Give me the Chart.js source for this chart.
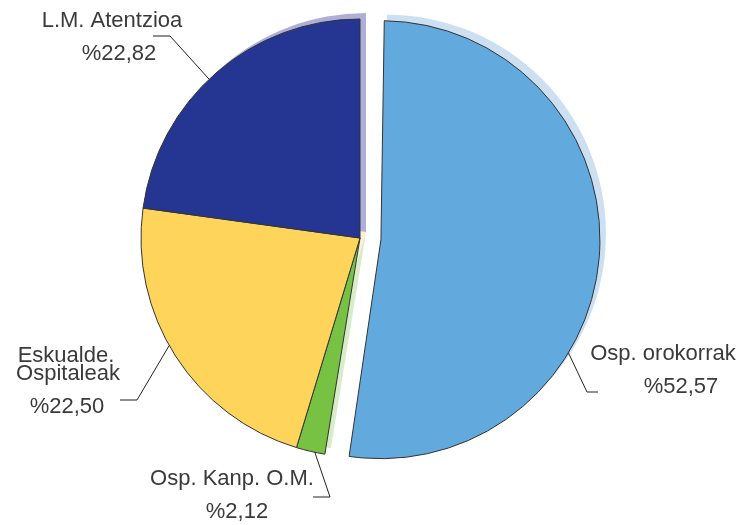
<!DOCTYPE html>
<html>
<head>
<meta charset="utf-8">
<script src="https://cdn.jsdelivr.net/npm/chart.js"></script>
<style>
  body { margin: 0; background: #fff; }
</style>
</head>
<body>
<canvas id="myChart" width="740" height="525"></canvas>
<script>
// data, clockwise from 12 o'clock
const names = ['Osp. orokorrak', 'Osp. Kanp. O.M.', 'Eskualde.\nOspitaleak', 'L.M. Atentzioa'];
const shares = [52.57, 2.12, 22.50, 22.82];
const shareText = ['%52,57', '%2,12', '%22,50', '%22,82'];

const fills = ['#62aadd', '#77c143', '#fed45b', '#253592'];
const shades = ['#cce0f2', '#d7ecc8', '#fdf0cf', '#aeaed8'];

// label layout: where the leader line leaves the slice (0..1 along the slice),
// the bend/end of the leader and the text lines (x, baseline y)
const labelSpots = [
  { at: 0.64, line: [[587, 392], [598, 392]], text: [[663, 360], [681, 393]] },
  { at: 0.35, line: [[330, 497], [313, 497]], text: [[232, 485], [237, 518]] },
  { at: 0.54, line: [[137, 400], [120, 400]], text: [[66, 362], [68, 380], [67, 413]] },
  { at: 0.47, line: [[170, 36], [153, 36]], text: [[112, 27], [119, 60]] }
];

// how chart.js draws an exploded arc: shift by offset/4 along the middle angle,
// and (for slices wider than 180deg) grow the radius by the same amount
function arcGeom(arc) {
  const p = arc.getProps(['x', 'y', 'startAngle', 'endAngle', 'circumference', 'outerRadius']);
  const off = (arc.options.offset || 0) / 4;
  const fix = 1 - Math.sin(Math.min(Math.PI, p.circumference || 0));
  const half = (p.startAngle + p.endAngle) / 2;
  return {
    x: p.x + Math.cos(half) * off,
    y: p.y + Math.sin(half) * off,
    r: p.outerRadius + off * fix,
    start: p.startAngle,
    end: p.endAngle,
    grow: off * fix
  };
}

// keep the exploded slice the same size as the others
const keepRadius = {
  id: 'keepRadius',
  afterDatasetUpdate(chart, args) {
    chart.getDatasetMeta(args.index).data.forEach(arc => {
      const g = arcGeom(arc);
      arc.outerRadius -= g.grow;
    });
  }
};

const shadowPlugin = {
  id: 'shadow',
  beforeDatasetsDraw(chart) {
    const ctx = chart.ctx;
    chart.getDatasetMeta(0).data.forEach((arc, i) => {
      const g = arcGeom(arc);
      ctx.save();
      ctx.translate(6, -6);
      ctx.beginPath();
      ctx.moveTo(g.x, g.y);
      ctx.arc(g.x, g.y, g.r, g.start, g.end);
      ctx.closePath();
      ctx.fillStyle = shades[i];
      ctx.fill();
      ctx.restore();
    });
  }
};

const labelPlugin = {
  id: 'labels',
  afterDatasetsDraw(chart) {
    const ctx = chart.ctx;
    chart.getDatasetMeta(0).data.forEach((arc, i) => {
      const g = arcGeom(arc);
      const spot = labelSpots[i];
      const a = g.start + (g.end - g.start) * spot.at;
      ctx.save();
      ctx.strokeStyle = '#222';
      ctx.lineWidth = 1;
      ctx.beginPath();
      ctx.moveTo(g.x + Math.cos(a) * g.r, g.y + Math.sin(a) * g.r);
      spot.line.forEach(pt => ctx.lineTo(pt[0], pt[1]));
      ctx.stroke();
      const lines = names[i].split('\n').concat([shareText[i]]);
      ctx.fillStyle = '#3a3a3a';
      ctx.font = '22px "Liberation Sans", Arial, sans-serif';
      ctx.textAlign = 'center';
      ctx.textBaseline = 'alphabetic';
      lines.forEach((t, k) => ctx.fillText(t, spot.text[k][0], spot.text[k][1]));
      ctx.restore();
    });
  }
};

new Chart(document.getElementById('myChart').getContext('2d'), {
  type: 'pie',
  data: {
    labels: names,
    datasets: [{
      data: shares,
      backgroundColor: fills,
      borderColor: '#333',
      borderWidth: 1,
      offset: [84, 0, 0, 0],
      radius: 219
    }]
  },
  options: {
    responsive: false,
    animation: false,
    layout: { padding: { left: 0, right: 20, top: 0, bottom: 49 } },
    plugins: {
      legend: { display: false },
      tooltip: { enabled: false }
    }
  },
  plugins: [keepRadius, shadowPlugin, labelPlugin]
});
</script>
</body>
</html>
